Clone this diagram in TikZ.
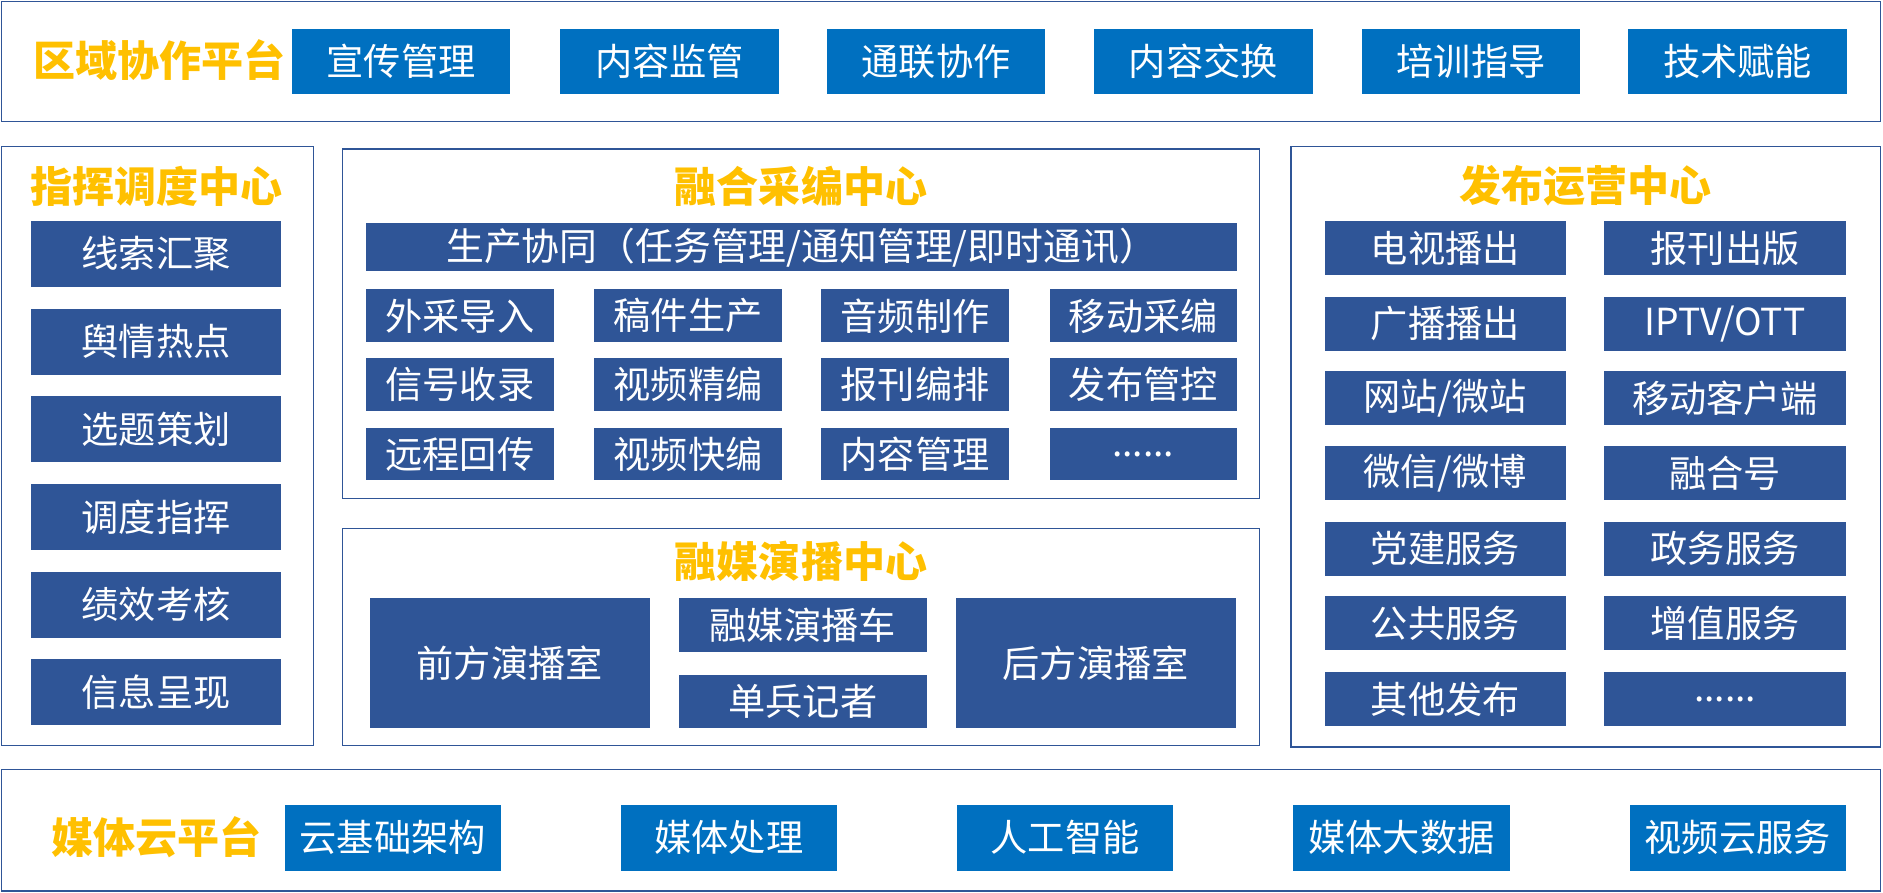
\documentclass[tikz,border=0pt]{standalone}
\usepackage{fontspec}
\newfontfamily\cjk{Noto Sans CJK SC}
\definecolor{topblue}{HTML}{0070C0}
\definecolor{midblue}{HTML}{2F5597}
\definecolor{gold}{HTML}{FFC000}
\tikzset{
  frame/.style={draw=midblue,line width=1.1pt},
  boxtext/.style={text=white,inner sep=0pt,font=\cjk\fontsize{31}{31}\selectfont},
  topbox/.style={boxtext,fill=topblue,minimum width=182pt,minimum height=54pt},
  lbox/.style={boxtext,fill=midblue,minimum width=208pt,minimum height=55pt},
  gbox/.style={boxtext,fill=midblue,minimum width=156pt,minimum height=44pt},
  rbox/.style={boxtext,fill=midblue,minimum width=201pt,minimum height=45pt},
  botbox/.style={boxtext,fill=topblue,minimum width=180pt,minimum height=55pt},
  title/.style={text=gold,inner sep=0pt,font=\cjk\bfseries\fontsize{35}{35}\selectfont}
}
\begin{document}
\begin{tikzpicture}[x=1pt,y=-1pt]
\useasboundingbox (0,0) rectangle (1568,743);

\draw[frame] (1,1) rectangle (1566,101);
\draw[frame] (1,122) rectangle (261,621);
\draw[frame] (285,124) rectangle (1049,415);
\draw[frame] (285,440) rectangle (1049,621);
\draw[frame] (1075,122) rectangle (1566,622);
\draw[frame] (1,641) rectangle (1566,742);

\node[title] (qy) at (133,50) {区域协作平台};
\node[topbox] (qy1) at (334,51) {宣传管理};
\node[topbox] (qy2) at (557.5,51) {内容监管};
\node[topbox] (qy3) at (779.5,51) {通联协作};
\node[topbox] (qy4) at (1002,51) {内容交换};
\node[topbox] (qy5) at (1225,51) {培训指导};
\node[topbox] (qy6) at (1447,51) {技术赋能};

\node[title] (zh) at (130,155) {指挥调度中心};
\node[lbox] (zh1) at (130,211.5) {线索汇聚};
\node[lbox] (zh2) at (130,284.5) {舆情热点};
\node[lbox] (zh3) at (130,357.5) {选题策划};
\node[lbox] (zh4) at (130,430.5) {调度指挥};
\node[lbox] (zh5) at (130,503.5) {绩效考核};
\node[lbox] (zh6) at (130,576.5) {信息呈现};

\node[title] (rh) at (667,155) {融合采编中心};
\node[gbox,minimum width=725pt,minimum height=40pt,font=\cjk\fontsize{31.5}{31.5}\selectfont] (rh0) at (667.5,206) {生产协同（任务管理/通知管理/即时通讯）};
\node[gbox] (rh11) at (383,263) {外采导入};
\node[gbox] (rh12) at (573,263) {稿件生产};
\node[gbox] (rh13) at (762,263) {音频制作};
\node[gbox] (rh14) at (952,263) {移动采编};
\node[gbox] (rh21) at (383,320) {信号收录};
\node[gbox] (rh22) at (573,320) {视频精编};
\node[gbox] (rh23) at (762,320) {报刊编排};
\node[gbox] (rh24) at (952,320) {发布管控};
\node[gbox] (rh31) at (383,378) {远程回传};
\node[gbox] (rh32) at (573,378) {视频快编};
\node[gbox] (rh33) at (762,378) {内容管理};
\node[gbox] (rh34) at (952,378) {......};

\node[title] (ym) at (667,467) {融媒演播中心};
\node[gbox,minimum width=233pt,minimum height=108pt] (ym1) at (424.5,552) {前方演播室};
\node[gbox,minimum width=207pt,minimum height=45pt] (ym2) at (668.5,520.5) {融媒演播车};
\node[gbox,minimum width=207pt,minimum height=44pt] (ym3) at (668.5,584) {单兵记者};
\node[gbox,minimum width=233pt,minimum height=108pt] (ym4) at (912.5,552) {后方演播室};

\node[title] (fb) at (1320,155) {发布运营中心};
\node[rbox] (fb11) at (1203.5,206.5) {电视播出};
\node[rbox] (fb12) at (1436.5,206.5) {报刊出版};
\node[rbox] (fb21) at (1203.5,269.5) {广播播出};
\node[rbox] (fb22) at (1436.5,269.5) {IPTV/OTT};
\node[rbox] (fb31) at (1203.5,331.5) {网站/微站};
\node[rbox] (fb32) at (1436.5,331.5) {移动客户端};
\node[rbox] (fb41) at (1203.5,394) {微信/微博};
\node[rbox] (fb42) at (1436.5,394) {融合号};
\node[rbox] (fb51) at (1203.5,457) {党建服务};
\node[rbox] (fb52) at (1436.5,457) {政务服务};
\node[rbox] (fb61) at (1203.5,519) {公共服务};
\node[rbox] (fb62) at (1436.5,519) {增值服务};
\node[rbox] (fb71) at (1203.5,582) {其他发布};
\node[rbox] (fb72) at (1436.5,582) {......};

\node[title] (yp) at (130,697) {媒体云平台};
\node[botbox] (yp1) at (327,697.5) {云基础架构};
\node[botbox] (yp2) at (607,697.5) {媒体处理};
\node[botbox] (yp3) at (887,697.5) {人工智能};
\node[botbox] (yp4) at (1167,697.5) {媒体大数据};
\node[botbox] (yp5) at (1447,697.5) {视频云服务};
\end{tikzpicture}
\end{document}
